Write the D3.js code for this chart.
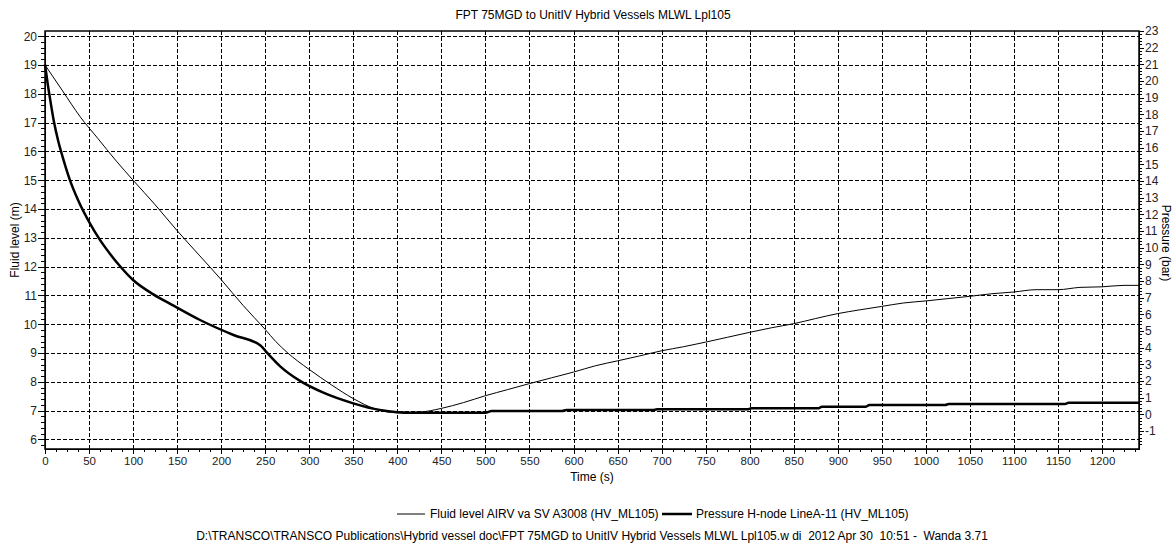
<!DOCTYPE html>
<html>
<head>
<meta charset="utf-8">
<script src="https://cdn.jsdelivr.net/npm/d3@7"></script>
<style>
  body { margin: 0; background: #fff; }
  svg { display: block; font-family: "Liberation Sans", Arial, sans-serif; }
  .axis path, .axis line { stroke: #000; shape-rendering: crispEdges; }
  .axis text { fill: #222; font-size: 12px; }
  .xaxis text { font-size: 11.5px; }
  .grid line { stroke: #000; stroke-dasharray: 4,2; shape-rendering: crispEdges; }
  .grid path { display: none; }
</style>
</head>
<body>
<div id="chart"></div>
<script>
// fluid level AIRV va SVA3008 (m, left axis)
const levelTime = [0, 20, 40, 60, 80, 100, 125, 150, 175, 200, 225, 250, 262, 275, 287, 300, 325, 350, 375, 400, 425, 450, 475, 500,
  525, 550, 575, 600, 625, 650, 675, 700, 725, 750, 775, 800, 825, 850, 875, 900, 925, 950, 975, 1000, 1025, 1050,
  1075, 1100, 1125, 1150, 1175, 1200, 1225, 1242];
const levelValue = [19.0, 18.1, 17.2, 16.45, 15.7, 15.0, 14.15, 13.25, 12.4, 11.55, 10.65, 9.82, 9.4, 9.02, 8.72, 8.43, 7.9, 7.42, 7.06, 6.93, 6.95, 7.08, 7.28, 7.52,
  7.73, 7.94, 8.14, 8.34, 8.56, 8.73, 8.9, 9.08, 9.22, 9.38, 9.55, 9.72, 9.88, 10.02, 10.2, 10.37, 10.5, 10.62, 10.74, 10.81, 10.89, 10.97,
  11.06, 11.12, 11.2, 11.2, 11.28, 11.3, 11.35, 11.35];

// pressure H-node LineA-11 (bar, right axis)
const pressTime = [0, 3, 6, 10, 15, 20, 28, 38, 51, 62, 75, 85, 100, 123, 146, 176, 214, 245, 252, 267, 290, 316, 350, 380, 400, 415,
  500, 507, 587, 592, 690, 695, 797, 802, 878, 882, 932, 936, 1022, 1026, 1158, 1162, 1242];
const pressValue = [21.0, 19.85, 18.85, 17.6, 16.4, 15.45, 14.1, 12.8, 11.46, 10.5, 9.55, 8.9, 8.06, 7.2, 6.52, 5.66, 4.76, 4.12, 3.7, 2.88, 1.99, 1.3, 0.66, 0.26, 0.13, 0.1,
  0.1, 0.2, 0.2, 0.26, 0.26, 0.3, 0.3, 0.36, 0.36, 0.46, 0.46, 0.56, 0.56, 0.62, 0.62, 0.7, 0.7];

const titleText = "FPT 75MGD to UnitIV Hybrid Vessels MLWL Lpl105";
const footerText = "D:\\TRANSCO\\TRANSCO Publications\\Hybrid vessel doc\\FPT 75MGD to UnitIV Hybrid Vessels MLWL Lpl105.w di  2012 Apr 30  10:51 -  Wanda 3.71";
const legendNames = ["Fluid level AIRV va SV A3008 (HV_ML105)", "Pressure H-node LineA-11 (HV_ML105)"];

const W = 1172, H = 544;
const plotL = 45, plotR = 1139, plotT = 31, plotB = 449;

const svg = d3.select("#chart").append("svg")
  .attr("width", W)
  .attr("height", H);

const x = d3.scaleLinear().domain([0, 1242]).range([plotL, plotR]);
const yL = d3.scaleLinear().domain([5.67, 20.18]).range([plotB, plotT]);
const yR = d3.scaleLinear().domain([-2.08, 23.0]).range([plotB, plotT]);

// grid
svg.append("g")
  .attr("class", "grid")
  .attr("transform", `translate(0,${plotB})`)
  .call(d3.axisBottom(x).tickValues(d3.range(50, 1201, 50)).tickSize(-(plotB - plotT)).tickFormat(""));
svg.append("g")
  .attr("class", "grid")
  .attr("transform", `translate(${plotL},0)`)
  .call(d3.axisLeft(yL).tickValues(d3.range(6, 21)).tickSize(-(plotR - plotL)).tickFormat(""));

// minor ticks
const xMinor = d3.range(0, 1242, 12.5).filter(d => d % 50 != 0);
const yLMinor = d3.range(5.8, 20.19, 0.2).filter(d => Math.abs(d - Math.round(d)) > 0.01);
const yRMinor = d3.range(-2, 23.01, 0.2).filter(d => Math.abs(d - Math.round(d)) > 0.01);

svg.append("g")
  .attr("class", "axis")
  .attr("transform", `translate(0,${plotB})`)
  .call(d3.axisBottom(x).tickValues(xMinor).tickSize(3).tickFormat(""))
  .select(".domain").remove();
svg.append("g")
  .attr("class", "axis")
  .attr("transform", `translate(${plotL},0)`)
  .call(d3.axisLeft(yL).tickValues(yLMinor).tickSize(4).tickFormat(""))
  .select(".domain").remove();
svg.append("g")
  .attr("class", "axis")
  .attr("transform", `translate(${plotR},0)`)
  .call(d3.axisRight(yR).tickValues(yRMinor).tickSize(3).tickFormat(""))
  .select(".domain").remove();

// major axes
svg.append("g")
  .attr("class", "axis xaxis")
  .attr("transform", `translate(0,${plotB})`)
  .call(d3.axisBottom(x).tickValues(d3.range(0, 1201, 50)).tickSize(5).tickSizeOuter(0).tickPadding(3)
    .tickFormat(d3.format("d")));
svg.append("g")
  .attr("class", "axis")
  .attr("transform", `translate(${plotL},0)`)
  .call(d3.axisLeft(yL).tickValues(d3.range(6, 21)).tickSize(7).tickSizeOuter(0).tickPadding(1));
svg.append("g")
  .attr("class", "axis")
  .attr("transform", `translate(${plotR},0)`)
  .call(d3.axisRight(yR).tickValues(d3.range(-1, 24)).tickSize(5).tickSizeOuter(0).tickPadding(1)
    .tickFormat(d => d < 0 ? "-" + Math.abs(d) : d));

// frame
svg.append("rect")
  .attr("x", plotL).attr("y", plotT)
  .attr("width", plotR - plotL).attr("height", plotB - plotT)
  .attr("fill", "none").attr("stroke", "#000").attr("stroke-width", 1.5);

// lines
const levelData = levelTime.map((t, i) => ({ t: t, v: levelValue[i] }));
const pressData = pressTime.map((t, i) => ({ t: t, v: pressValue[i] }));

svg.append("path")
  .datum(levelData)
  .attr("fill", "none")
  .attr("stroke", "#000")
  .attr("stroke-width", 1)
  .attr("d", d3.line().x(d => x(d.t)).y(d => yL(d.v)).curve(d3.curveMonotoneX));

svg.append("path")
  .datum(pressData)
  .attr("fill", "none")
  .attr("stroke", "#000")
  .attr("stroke-width", 2.5)
  .attr("stroke-linejoin", "round")
  .attr("d", d3.line().x(d => x(d.t)).y(d => yR(d.v)).curve(d3.curveMonotoneX));

// texts
svg.append("text")
  .attr("x", 593).attr("y", 19)
  .attr("text-anchor", "middle")
  .style("font-size", "12px")
  .text(titleText);

svg.append("text")
  .attr("x", (plotL + plotR) / 2).attr("y", 481)
  .attr("text-anchor", "middle")
  .style("font-size", "12px")
  .text("Time (s)");

svg.append("text")
  .attr("transform", `translate(15,${(plotT + plotB) / 2}) rotate(-90)`)
  .attr("text-anchor", "middle")
  .attr("dy", "0.35em")
  .style("font-size", "12px")
  .text("Fluid level (m)");

svg.append("text")
  .attr("transform", `translate(1166,${(plotT + plotB) / 2 + 3}) rotate(90)`)
  .attr("text-anchor", "middle")
  .attr("dy", "0.35em")
  .style("font-size", "12px")
  .text("Pressure (bar)");

// legend
svg.append("line")
  .attr("x1", 397).attr("x2", 425).attr("y1", 514).attr("y2", 514)
  .attr("stroke", "#000").attr("stroke-width", 1);
svg.append("text")
  .attr("x", 430).attr("y", 518)
  .style("font-size", "12px")
  .text(legendNames[0]);
svg.append("line")
  .attr("x1", 662).attr("x2", 692).attr("y1", 514).attr("y2", 514)
  .attr("stroke", "#000").attr("stroke-width", 2.5);
svg.append("text")
  .attr("x", 696).attr("y", 518)
  .style("font-size", "12px")
  .text(legendNames[1]);

svg.append("text")
  .attr("x", 592).attr("y", 540)
  .attr("text-anchor", "middle")
  .style("font-size", "12px")
  .style("white-space", "pre")
  .text(footerText);
</script>
</body>
</html>
